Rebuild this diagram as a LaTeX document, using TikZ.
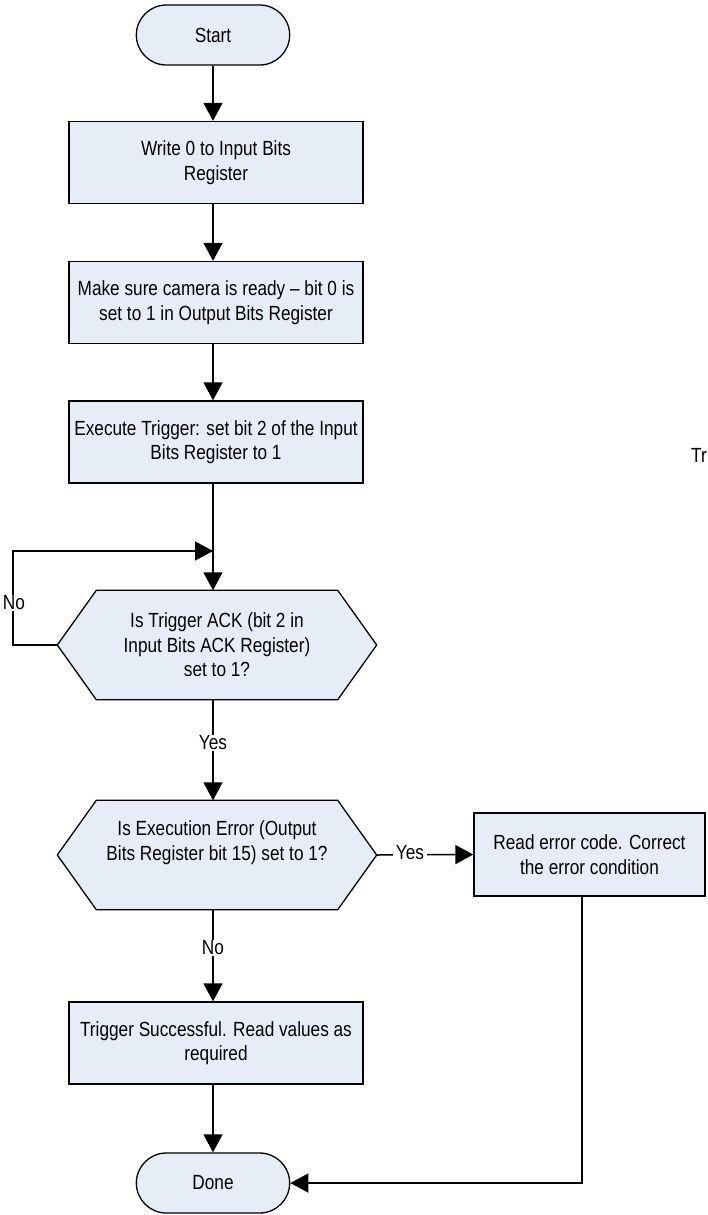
\documentclass[tikz,border=0pt]{standalone}
\usepackage{fontspec}
\setmainfont{Liberation Sans}[FakeStretch=0.84]
\usetikzlibrary{arrows.meta,shapes.misc,backgrounds}

\definecolor{boxfill}{HTML}{E7EDF7}

\tikzset{
	every node/.style={font=\fontsize{20.5}{24.5}\selectfont},
	terminal/.style={draw, fill=boxfill, rounded rectangle, minimum width=160pt, minimum height=60pt, line width=1.3pt},
	stepbox/.style={draw, fill=boxfill, rectangle, minimum width=294pt, minimum height=82pt, align=center, inner sep=2pt, line width=1.3pt},
	decision/.style={rectangle, minimum width=319pt, minimum height=109pt, align=center, inner sep=2pt},
	hexline/.style={draw, fill=boxfill, line width=1.3pt, line join=miter},
	flow/.style={line width=1.5pt, -{Triangle[width=19pt,length=18pt]}},
	lbl/.style={fill=white, inner sep=1pt},
}

\begin{document}
\begin{tikzpicture}[x=1pt, y=-1pt]
	\useasboundingbox (0, 0) rectangle (707, 1215);

	% main column
	\node[terminal] (start) at (213, 35) {Start};
	\node[stepbox] (write) at (216, 162.5) {Write 0 to Input Bits\\Register};
	\node[stepbox] (ready) at (216, 302.5) {Make sure camera is ready -- bit 0 is\\set to 1 in Output Bits Register};
	\node[stepbox] (trigger) at (216, 442) {Execute Trigger: set bit 2 of the Input\\Bits Register to 1};
	\node[decision] (ack) at (217, 645) {Is Trigger ACK (bit 2 in\\Input Bits ACK Register)\\set to 1?};
	\node[decision] (exec) at (217, 855) {Is Execution Error (Output\\Bits Register bit 15) set to 1?\\[4pt]};
	\node[stepbox] (success) at (216, 1043) {Trigger Successful. Read values as\\required};
	\node[terminal] (done) at (213, 1183) {Done};

	% hexagons behind the decision texts
	\begin{pgfonlayer}{background}
	\foreach \d in {ack, exec}
		\path[hexline] (\d.west) -- ([xshift=39pt]\d.north west) -- ([xshift=-39pt]\d.north east)
			-- (\d.east) -- ([xshift=-39pt]\d.south east) -- ([xshift=39pt]\d.south west) -- cycle;
	\end{pgfonlayer}

	% error branch
	\node[stepbox, minimum width=231pt, minimum height=83pt] (error) at (589.5, 854.5) {Read error code. Correct\\the error condition};
	\coordinate (corner) at (582, 1183);

	% loop
	\coordinate (loopa) at (13, 645);
	\coordinate (loopb) at (13, 551);
	\coordinate (loopc) at (213, 551);

	\node[anchor=base west, inner sep=0pt] (cut) at (691, 462) {Tr};

	% arrows
	\draw[flow] (start.south -| 213, 0) -- (write.north -| 213, 0);
	\draw[flow] (write.south -| 213, 0) -- (ready.north -| 213, 0);
	\draw[flow] (ready.south -| 213, 0) -- (trigger.north -| 213, 0);
	\draw[flow] (trigger.south -| 213, 0) -- (ack.north -| 213, 0);
	\draw[flow] (ack.west) -- (loopa) -- (loopb) -- (loopc);
	\node[lbl] (no1) at (14, 603) {No};
	\draw[flow] (ack.south -| 213, 0) -- (exec.north -| 213, 0);
	\node[lbl] (yes1) at (213, 743) {Yes};
	\draw[flow] (exec.south -| 213, 0) -- (success.north -| 213, 0);
	\node[lbl] (no2) at (213, 948) {No};
	\draw[flow] (exec.east) -- (error.west);
	\node[lbl, inner sep=3pt] (yes2) at (410, 853) {Yes};
	\draw[flow] (success.south -| 213, 0) -- (done.north);
	\draw[flow] (error.south -| corner) -- (corner) -- (done.east);
\end{tikzpicture}
\end{document}
